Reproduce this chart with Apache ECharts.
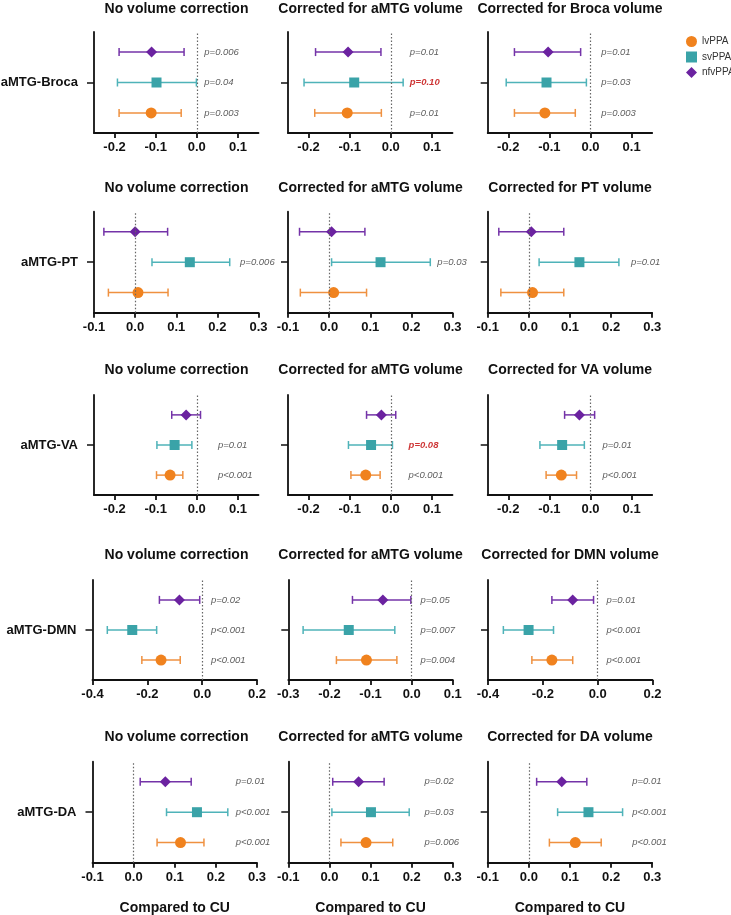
<!DOCTYPE html>
<html><head><meta charset="utf-8">
<script src="https://cdn.jsdelivr.net/npm/echarts@6/dist/echarts.min.js"></script>
<style>html,body{margin:0;padding:0;background:#fff}#c{width:731px;height:915px}</style>
</head><body><div id="c"></div>
<script>
// ---------------- DATA ----------------
const groups = ['lvPPA', 'svPPA', 'nfvPPA'];
const rowLabels = ['aMTG-Broca', 'aMTG-PT', 'aMTG-VA', 'aMTG-DMN', 'aMTG-DA'];
const panelTitles = [
  ['No volume correction', 'Corrected for aMTG volume', 'Corrected for Broca volume'],
  ['No volume correction', 'Corrected for aMTG volume', 'Corrected for PT volume'],
  ['No volume correction', 'Corrected for aMTG volume', 'Corrected for VA volume'],
  ['No volume correction', 'Corrected for aMTG volume', 'Corrected for DMN volume'],
  ['No volume correction', 'Corrected for aMTG volume', 'Corrected for DA volume']
];
const xAxisTitle = 'Compared to CU';

// axis ranges and tick labels per row, per column
const xMin = [[-0.25, -0.25, -0.25], [-0.1, -0.1, -0.1], [-0.25, -0.25, -0.25], [-0.4, -0.3, -0.4], [-0.1, -0.1, -0.1]];
const xMax = [[0.15, 0.15, 0.15], [0.3, 0.3, 0.3], [0.15, 0.15, 0.15], [0.2, 0.1, 0.2], [0.3, 0.3, 0.3]];
const xTicks = [
  [[-0.2, -0.1, 0, 0.1], [-0.2, -0.1, 0, 0.1], [-0.2, -0.1, 0, 0.1]],
  [[-0.1, 0, 0.1, 0.2, 0.3], [-0.1, 0, 0.1, 0.2, 0.3], [-0.1, 0, 0.1, 0.2, 0.3]],
  [[-0.2, -0.1, 0, 0.1], [-0.2, -0.1, 0, 0.1], [-0.2, -0.1, 0, 0.1]],
  [[-0.4, -0.2, 0, 0.2], [-0.3, -0.2, -0.1, 0, 0.1], [-0.4, -0.2, 0, 0.2]],
  [[-0.1, 0, 0.1, 0.2, 0.3], [-0.1, 0, 0.1, 0.2, 0.3], [-0.1, 0, 0.1, 0.2, 0.3]]
];

// estimates [row][col]
const lvPPA_est = [[-0.111, -0.106, -0.111], [0.007, 0.011, 0.009], [-0.065, -0.061, -0.071], [-0.150, -0.110, -0.167], [0.114, 0.089, 0.113]];
const lvPPA_low = [[-0.189, -0.185, -0.185], [-0.065, -0.070, -0.068], [-0.098, -0.097, -0.108], [-0.220, -0.183, -0.240], [0.057, 0.028, 0.050]];
const lvPPA_high = [[-0.038, -0.023, -0.037], [0.080, 0.091, 0.085], [-0.034, -0.026, -0.034], [-0.080, -0.036, -0.091], [0.171, 0.154, 0.176]];
const lvPPA_p = [['p=0.003', 'p=0.01', 'p=0.003'], ['', '', ''], ['p<0.001', 'p<0.001', 'p<0.001'], ['p<0.001', 'p=0.004', 'p<0.001'], ['p<0.001', 'p=0.006', 'p<0.001']];

const svPPA_est = [[-0.098, -0.089, -0.107], [0.133, 0.125, 0.123], [-0.054, -0.048, -0.069], [-0.255, -0.153, -0.252], [0.154, 0.101, 0.145]];
const svPPA_low = [[-0.193, -0.211, -0.205], [0.041, 0.006, 0.025], [-0.097, -0.103, -0.123], [-0.346, -0.264, -0.344], [0.080, 0.006, 0.070]];
const svPPA_high = [[-0.001, 0.030, -0.010], [0.230, 0.246, 0.219], [-0.012, 0.004, -0.015], [-0.166, -0.041, -0.161], [0.229, 0.194, 0.228]];
const svPPA_p = [['p=0.04', 'p=0.10', 'p=0.03'], ['p=0.006', 'p=0.03', 'p=0.01'], ['p=0.01', 'p=0.08', 'p=0.01'], ['p<0.001', 'p=0.007', 'p<0.001'], ['p<0.001', 'p=0.03', 'p<0.001']];

const nfvPPA_est = [[-0.110, -0.104, -0.103], [0.000, 0.006, 0.006], [-0.026, -0.023, -0.027], [-0.083, -0.070, -0.091], [0.077, 0.071, 0.080]];
const nfvPPA_low = [[-0.189, -0.183, -0.185], [-0.076, -0.072, -0.073], [-0.061, -0.059, -0.063], [-0.156, -0.144, -0.167], [0.016, 0.008, 0.019]];
const nfvPPA_high = [[-0.031, -0.024, -0.024], [0.079, 0.087, 0.085], [0.009, 0.012, 0.010], [-0.009, -0.002, -0.015], [0.140, 0.133, 0.141]];
const nfvPPA_p = [['p=0.006', 'p=0.01', 'p=0.01'], ['', '', ''], ['', '', ''], ['p=0.02', 'p=0.05', 'p=0.01'], ['p=0.01', 'p=0.02', 'p=0.01']];

// ---------------- STYLE / LAYOUT ----------------
const FONT = '"Liberation Sans", Arial, Helvetica, sans-serif';
const markerColor = { lvPPA: '#F0821E', svPPA: '#3AA3A8', nfvPPA: '#6B22A0' };
const whiskerColor = { lvPPA: '#EF9140', svPPA: '#4FB3B9', nfvPPA: '#7433A8' };
const symbols = { lvPPA: 'circle', svPPA: 'rect', nfvPPA: 'diamond' };
const symbolSizes = { lvPPA: 11, svPPA: 10, nfvPPA: 11 };
const rowPos = { lvPPA: 1, svPPA: 2, nfvPPA: 3 };
const seriesData = {
  lvPPA: { est: lvPPA_est, low: lvPPA_low, high: lvPPA_high, p: lvPPA_p },
  svPPA: { est: svPPA_est, low: svPPA_low, high: svPPA_high, p: svPPA_p },
  nfvPPA: { est: nfvPPA_est, low: nfvPPA_low, high: nfvPPA_high, p: nfvPPA_p }
};
const rowTops = [32, 211.7, 395, 580, 761.7];
const rowHeights = [101, 101, 100, 100, 101];
const colLefts = [[94, 288, 487.7], [94, 288, 487.7], [94, 288, 487.7], [92.5, 288.3, 488], [92.5, 288.3, 487.7]];
const gridWidth = 164.5;
const titleCenters = [176.5, 370.5, 570];
const titleCY = [8, 187.5, 369.5, 554, 736];
const pTextX = [[0.017, 0.045, 0.025], [0.254, 0.262, 0.247], [0.05, 0.042, 0.028], [0.03, 0.02, 0.03], [0.247, 0.23, 0.25]];

const grids = [], xAxes = [], yAxes = [], series = [], titles = [];
const axisColor = '#111';

for (let r = 0; r < 5; r++) {
  for (let c = 0; c < 3; c++) {
    const idx = r * 3 + c;
    grids.push({ left: colLefts[r][c], top: rowTops[r], width: gridWidth, height: rowHeights[r], containLabel: false, outerBoundsMode: 'none' });
    titles.push({
      text: panelTitles[r][c], left: titleCenters[c], top: titleCY[r] - 6, textAlign: 'center', padding: 0,
      textStyle: { fontFamily: FONT, fontSize: 14, fontWeight: 'bold', color: axisColor }
    });
    xAxes.push({
      type: 'value', gridIndex: idx, min: xMin[r][c], max: xMax[r][c],
      axisLine: { show: true, onZero: false, lineStyle: { color: axisColor, width: 1.8 } },
      axisTick: { show: true, customValues: xTicks[r][c], length: 5, lineStyle: { color: axisColor, width: 1.8 } },
      axisLabel: { customValues: xTicks[r][c], formatter: v => Number(v).toFixed(1), fontFamily: FONT, fontSize: 13, fontWeight: 'bold', color: axisColor, margin: 8 },
      splitLine: { show: false },
      name: r === 4 ? xAxisTitle : '', nameLocation: 'middle', nameGap: 38,
      nameTextStyle: { fontFamily: FONT, fontSize: 14, fontWeight: 'bold', color: axisColor }
    });
    yAxes.push({
      type: 'value', gridIndex: idx, min: 0.34, max: 3.66,
      axisLine: { show: true, onZero: false, lineStyle: { color: axisColor, width: 1.8 } },
      axisTick: { show: true, customValues: [2], length: 7, lineStyle: { color: axisColor, width: 1.5 } },
      axisLabel: { show: c === 0, customValues: [2], formatter: () => rowLabels[r], fontFamily: FONT, fontSize: 13, fontWeight: 'bold', color: axisColor, margin: 16 },
      splitLine: { show: false }
    });
    groups.forEach((g, gi) => {
      const d = seriesData[g];
      const y = rowPos[g];
      series.push({
        type: 'custom', name: g, xAxisIndex: idx, yAxisIndex: idx, silent: true,
        itemStyle: { color: markerColor[g] },
        encode: { x: [0, 1], y: 2 },
        data: [[d.low[r][c], d.high[r][c], y]],
        renderItem: (params, api) => {
          const yy = api.value(2);
          const p1 = api.coord([api.value(0), yy]);
          const p2 = api.coord([api.value(1), yy]);
          const h = 4;
          const style = { stroke: whiskerColor[g], lineWidth: 1.5, fill: null };
          return { type: 'group', children: [
            { type: 'line', shape: { x1: p1[0], y1: p1[1], x2: p2[0], y2: p2[1] }, style },
            { type: 'line', shape: { x1: p1[0], y1: p1[1] - h, x2: p1[0], y2: p1[1] + h }, style },
            { type: 'line', shape: { x1: p2[0], y1: p2[1] - h, x2: p2[0], y2: p2[1] + h }, style }
          ] };
        }
      });
      const sc = {
        type: 'scatter', name: g, xAxisIndex: idx, yAxisIndex: idx, silent: true,
        symbol: symbols[g], symbolSize: symbolSizes[g], z: 3,
        itemStyle: { color: markerColor[g], opacity: 1 },
        data: [[d.est[r][c], y]]
      };
      if (gi === 0) {
        sc.markLine = {
          silent: true, symbol: ['none', 'none'], label: { show: false },
          lineStyle: { color: '#666', type: [1.5, 2], width: 1.2 },
          data: [{ xAxis: 0 }]
        };
      }
      series.push(sc);
    });
    // p-value labels
    const pData = [];
    groups.forEach(g => {
      const txt = seriesData[g].p[r][c];
      if (!txt) return;
      const num = parseFloat(txt.replace(/[^0-9.]/g, ''));
      const sig = !(num > 0.05);
      pData.push({
        value: [pTextX[r][c], rowPos[g]],
        label: {
          formatter: txt,
          color: sig ? '#333' : '#C00000',
          fontWeight: sig ? 'normal' : 'bold'
        }
      });
    });
    series.push({
      type: 'scatter', name: 'p-values', xAxisIndex: idx, yAxisIndex: idx, silent: true,
      symbol: 'circle', symbolSize: 1, itemStyle: { color: 'rgba(0,0,0,0)' }, z: 4,
      label: { show: true, position: 'right', distance: 0, fontFamily: FONT, fontSize: 9.5, fontStyle: 'italic' },
      labelLayout: { hideOverlap: false },
      data: pData
    });
  }
}

const chart = echarts.init(document.getElementById('c'), null, { renderer: 'canvas' });
chart.setOption({
  animation: false,
  backgroundColor: '#fff',
  title: titles,
  legend: {
    orient: 'vertical', left: 681, top: 31, itemWidth: 11, itemHeight: 11, itemGap: 4.5,
    textStyle: { fontFamily: FONT, fontSize: 10, color: '#333' },
    data: groups.map(g => ({ name: g, icon: symbols[g], itemStyle: { color: markerColor[g] } }))
  },
  grid: grids,
  xAxis: xAxes,
  yAxis: yAxes,
  series: series
});
</script>
</body></html>
